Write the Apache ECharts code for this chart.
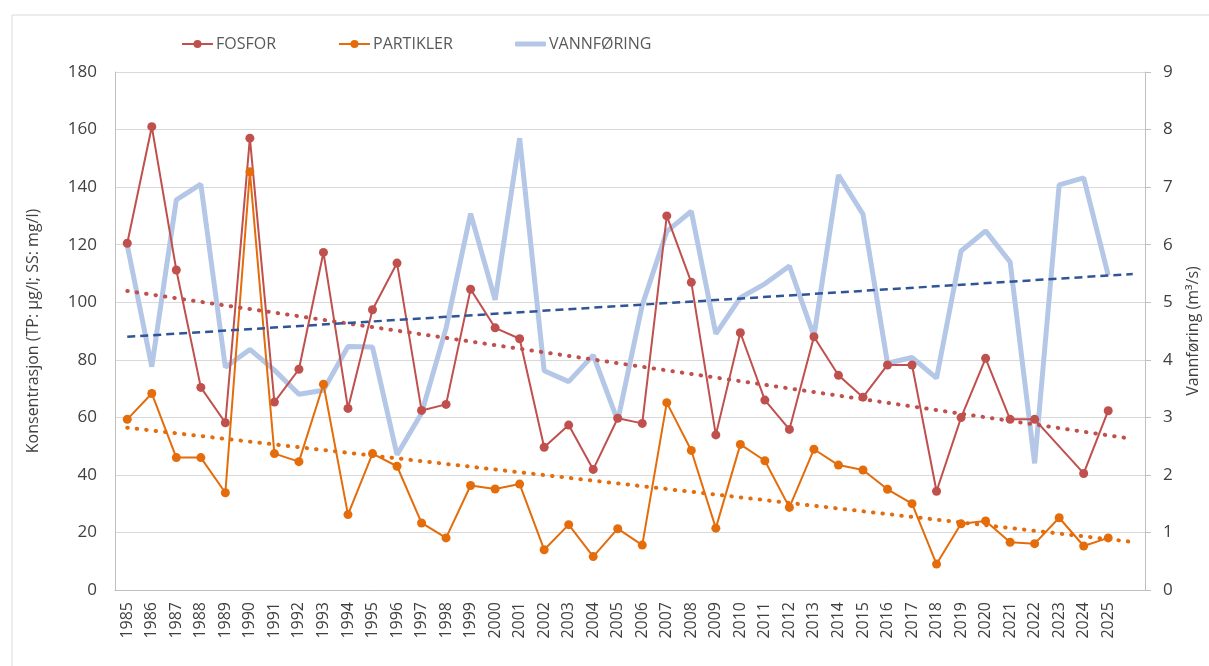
<!DOCTYPE html>
<html>
<head>
<meta charset="utf-8">
<title>Fosfor, partikler og vannføring</title>
<script src="https://cdn.jsdelivr.net/npm/echarts@6/dist/echarts.min.js"></script>
<style>
  html, body { margin: 0; padding: 0; background: #fff; }
  #chart { width: 1209px; height: 666px; }
</style>
</head>
<body>
<div id="chart"></div>
<script>
// årstall (siste tomme kategori gir plass til trendlinjene)
var years = ['1985', '1986', '1987', '1988', '1989', '1990', '1991', '1992', '1993', '1994',
  '1995', '1996', '1997', '1998', '1999', '2000', '2001', '2002', '2003', '2004',
  '2005', '2006', '2007', '2008', '2009', '2010', '2011', '2012', '2013', '2014',
  '2015', '2016', '2017', '2018', '2019', '2020', '2021', '2022', '2023', '2024', '2025', ''];

// TP µg/l
var fosfor = [120.5, 161, 111.2, 70.4, 58.1, 157, 65.3, 76.7, 117.3, 63.1,
  97.4, 113.6, 62.4, 64.5, 104.5, 91.1, 87.3, 49.6, 57.3, 41.9,
  59.7, 57.9, 130, 106.9, 53.9, 89.4, 66.0, 55.8, 88.0, 74.6,
  67.0, 78.2, 78.2, 34.3, 59.9, 80.5, 59.3, 59.3, null, 40.5, 62.3];

// SS mg/l
var partikler = [59.3, 68.3, 46.0, 46.0, 33.8, 145.3, 47.4, 44.6, 71.5, 26.2,
  47.4, 43.0, 23.3, 18.1, 36.3, 35.1, 36.8, 14.0, 22.7, 11.6,
  21.3, 15.6, 65.1, 48.5, 21.5, 50.6, 44.9, 28.7, 48.9, 43.4,
  41.7, 35.0, 30.0, 9.0, 23.0, 24.0, 16.6, 16.1, 25.1, 15.3, 18.1];

// m3/s
var vannforing = [5.99, 3.88, 6.78, 7.05, 3.87, 4.18, 3.82, 3.40, 3.47, 4.23,
  4.22, 2.35, 3.07, 4.55, 6.54, 5.04, 7.85, 3.81, 3.62, 4.08,
  2.94, 4.95, 6.23, 6.58, 4.45, 5.08, 5.32, 5.63, 4.41, 7.21,
  6.53, 3.94, 4.04, 3.68, 5.89, 6.24, 5.70, 2.20, 7.04, 7.16, 5.47];

// lineære trender, start (1985) og slutt (ett år etter 2025)
var trendIdx = [0, 41];
var fosforTrend = [103.9, 52.5];
var partiklerTrend = [56.4, 16.7];
var vannTrend = [4.40, 5.49];

var leftTicks = [0, 180, 20];
var rightTicks = [0, 9, 1];

var font = "'Open Sans', 'Noto Sans', sans-serif";
var red = '#c0504d', orange = '#e46c0a', lightBlue = '#b4c7e7', darkBlue = '#2f5597';

function trend(vals) {
  return [[trendIdx[0], vals[0]], [trendIdx[1], vals[1]]];
}

function legendAt(name, left, extra) {
  var l = {
    data: [name],
    left: left,
    top: 31,
    itemWidth: 31,
    itemHeight: 10,
    itemGap: 0,
    textStyle: { fontFamily: font, fontSize: 16, color: '#595959', padding: [0, 0, 0, -2] }
  };
  for (var k in extra) l[k] = extra[k];
  return l;
}

var chart = echarts.init(document.getElementById('chart'));
chart.setOption({
  animation: false,
  backgroundColor: '#fff',
  graphic: [{
    type: 'rect',
    shape: { x: 12, y: 15, width: 1220, height: 700 },
    style: { fill: 'none', stroke: '#d9d9d9', lineWidth: 1 },
    silent: true
  }],
  legend: [
    legendAt('FOSFOR', 176),
    legendAt('PARTIKLER', 333),
    legendAt('VANNFØRING', 510, { icon: 'roundRect', itemHeight: 5 })
  ],
  grid: { left: 115, right: 63, top: 72, bottom: 76 },
  xAxis: {
    type: 'category',
    data: years,
    boundaryGap: true,
    axisLine: { lineStyle: { color: '#bfbfbf' } },
    axisTick: { show: false },
    axisLabel: { interval: 0, rotate: 90, margin: 12, fontFamily: font, fontSize: 16, color: '#404040' }
  },
  yAxis: [{
    type: 'value',
    min: leftTicks[0], max: leftTicks[1], interval: leftTicks[2],
    name: 'Konsentrasjon (TP: µg/l; SS: mg/l)',
    nameLocation: 'middle',
    nameGap: 74,
    nameTextStyle: { fontFamily: font, fontSize: 16, color: '#404040' },
    axisLine: { show: true, lineStyle: { color: '#bfbfbf' } },
    axisTick: { show: false },
    axisLabel: { margin: 18, fontFamily: font, fontSize: 17, color: '#404040' },
    splitLine: { lineStyle: { color: '#d9d9d9' } }
  }, {
    type: 'value',
    min: rightTicks[0], max: rightTicks[1], interval: rightTicks[2],
    name: 'Vannføring (m³/s)',
    nameLocation: 'middle',
    nameGap: 40,
    nameTextStyle: { fontFamily: font, fontSize: 16, color: '#404040' },
    axisLine: { show: true, lineStyle: { color: '#bfbfbf' } },
    axisTick: { show: true, length: 6, lineStyle: { color: '#bfbfbf' } },
    axisLabel: { margin: 18, fontFamily: font, fontSize: 17, color: '#404040' },
    splitLine: { show: false }
  }],
  series: [{
    name: 'VANNFØRING',
    type: 'line',
    yAxisIndex: 1,
    data: vannforing,
    symbol: 'none',
    color: lightBlue,
    lineStyle: { width: 5, color: lightBlue },
    z: 2
  }, {
    name: 'FOSFOR',
    type: 'line',
    data: fosfor,
    connectNulls: true,
    symbol: 'circle',
    symbolSize: 9,
    color: red,
    lineStyle: { width: 2, color: red },
    z: 3
  }, {
    name: 'PARTIKLER',
    type: 'line',
    data: partikler,
    symbol: 'circle',
    symbolSize: 9,
    color: orange,
    lineStyle: { width: 2, color: orange },
    z: 4
  }, {
    name: 'fosfor trend',
    type: 'line',
    data: trend(fosforTrend),
    symbol: 'none',
    lineStyle: { width: 4, color: red, type: [0.5, 9], cap: 'round' },
    z: 5
  }, {
    name: 'partikler trend',
    type: 'line',
    data: trend(partiklerTrend),
    symbol: 'none',
    lineStyle: { width: 4, color: orange, type: [0.5, 9], cap: 'round' },
    z: 5
  }, {
    name: 'vannføring trend',
    type: 'line',
    yAxisIndex: 1,
    data: trend(vannTrend),
    symbol: 'none',
    lineStyle: { width: 2.5, color: darkBlue, type: [8, 5] },
    z: 5
  }]
});
</script>
</body>
</html>
